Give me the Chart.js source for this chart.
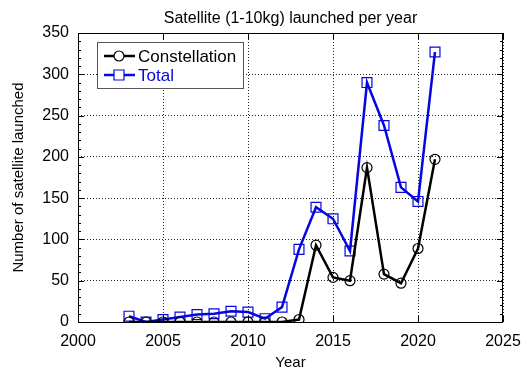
<!DOCTYPE html>
<html>
<head>
<meta charset="utf-8">
<script src="https://cdn.jsdelivr.net/npm/chart.js@4"></script>
<style>
  html, body { margin: 0; padding: 0; background: #fff; }
  #wrap { width: 524px; height: 372px; }
</style>
</head>
<body>
<div id="wrap"><canvas id="chart" width="524" height="372"></canvas></div>
<script>
// data
const years = [2003, 2004, 2005, 2006, 2007, 2008, 2009, 2010, 2011, 2012,
               2013, 2014, 2015, 2016, 2017, 2018, 2019, 2020, 2021];
const constellation = [0, 0, 0, 0, 0, 0, 0, 0, 0, 0,
                       3, 93, 54, 50, 187, 58, 47, 89, 197];
const total = [7, 0, 3, 6, 9, 10, 13, 12, 4, 18,
               88, 139, 125, 86, 290, 238, 163, 146, 327];
const xTicks = [2000, 2005, 2010, 2015, 2020, 2025];
const yTicks = [0, 50, 100, 150, 200, 250, 300, 350];
const chartTitle = 'Satellite (1-10kg) launched per year';

const FONT = "'Liberation Sans', Arial, sans-serif";
const BLUE = '#0606e0';

const toPoints = (vals) => years.map((y, i) => ({ x: y, y: vals[i] }));

// frame, inside ticks, title and legend box
const decor = {
  id: 'decor',
  afterDraw(chart) {
    const { ctx, chartArea: a, scales: { x, y } } = chart;
    ctx.save();
    ctx.strokeStyle = '#000';
    ctx.lineWidth = 1;
    ctx.strokeRect(a.left + 0.5, a.top + 0.5, a.right - a.left - 1, a.bottom - a.top);

    ctx.beginPath();
    for (let v = 0; v <= 350; v += 10) {
      const py = Math.round(y.getPixelForValue(v)) + 0.5;
      const len = v % 50 === 0 ? 6 : 3;
      ctx.moveTo(a.left, py); ctx.lineTo(a.left + len, py);
      ctx.moveTo(a.right, py); ctx.lineTo(a.right - len, py);
    }
    xTicks.forEach(v => {
      const px = Math.round(x.getPixelForValue(v)) + 0.5;
      ctx.moveTo(px, a.top); ctx.lineTo(px, a.top + 6);
      ctx.moveTo(px, a.bottom); ctx.lineTo(px, a.bottom - 6);
    });
    ctx.stroke();

    // title centred over the plot
    ctx.fillStyle = '#000';
    ctx.font = '16px ' + FONT;
    ctx.textAlign = 'center';
    ctx.textBaseline = 'middle';
    ctx.fillText(chartTitle, (a.left + a.right) / 2, 19);

    // legend
    const bx = 97, by = 42, bw = 146, bh = 46;
    ctx.fillStyle = '#fff';
    ctx.fillRect(bx, by, bw, bh);
    ctx.strokeStyle = '#555';
    ctx.strokeRect(bx + 0.5, by + 0.5, bw, bh);

    const rows = [
      { label: 'Constellation', color: '#000', y: by + 14, style: 'circle' },
      { label: 'Total', color: BLUE, y: by + 33, style: 'rect' }
    ];
    ctx.textAlign = 'left';
    rows.forEach(r => {
      ctx.strokeStyle = r.color;
      ctx.lineWidth = 2.5;
      ctx.beginPath();
      ctx.moveTo(bx + 7, r.y); ctx.lineTo(bx + 38, r.y);
      ctx.stroke();
      ctx.lineWidth = 1.2;
      ctx.fillStyle = '#fff';
      ctx.beginPath();
      if (r.style === 'circle') {
        ctx.arc(bx + 22, r.y, 5, 0, Math.PI * 2);
      } else {
        ctx.rect(bx + 17, r.y - 5, 10, 10);
      }
      ctx.fill();
      ctx.stroke();
      ctx.fillStyle = r.color;
      ctx.font = '17px ' + FONT;
      ctx.textBaseline = 'middle';
      ctx.fillText(r.label, bx + 41, r.y + 1);
    });
    ctx.restore();
  }
};

new Chart(document.getElementById('chart'), {
  type: 'line',
  data: {
    datasets: [
      {
        label: 'Constellation',
        data: toPoints(constellation),
        borderColor: '#000',
        borderWidth: 2.5,
        pointStyle: 'circle',
        pointRadius: 5,
        pointBorderWidth: 1.2,
        pointBackgroundColor: 'rgba(0,0,0,0)',
        pointBorderColor: '#000',
        tension: 0
      },
      {
        label: 'Total',
        data: toPoints(total),
        borderColor: BLUE,
        borderWidth: 2.5,
        pointStyle: 'rect',
        pointRadius: 7,
        pointBorderWidth: 1.2,
        pointBackgroundColor: 'rgba(0,0,0,0)',
        pointBorderColor: BLUE,
        tension: 0
      }
    ]
  },
  options: {
    responsive: false,
    animation: false,
    layout: { padding: { left: 0, right: 21, top: 33, bottom: 0 } },
    plugins: {
      legend: { display: false },
      tooltip: { enabled: false },
      title: { display: false }
    },
    scales: {
      x: {
        type: 'linear',
        min: 2000,
        max: 2025,
        afterBuildTicks: (s) => { s.ticks = xTicks.map(v => ({ value: v })); },
        afterFit: (s) => { s.height = 50; s.paddingLeft = 0; s.paddingRight = 0; },
        ticks: {
          color: '#000',
          font: { family: FONT, size: 16 },
          padding: 10,
          maxRotation: 0,
          callback: (v) => String(v)
        },
        grid: { color: '#222', drawTicks: false, lineWidth: 1 },
        border: { display: false, dash: [1, 2] },
        title: {
          display: true,
          text: 'Year',
          color: '#000',
          font: { family: FONT, size: 15 },
          padding: { top: 12, bottom: 0 }
        }
      },
      y: {
        min: 0,
        max: 350,
        afterBuildTicks: (s) => { s.ticks = yTicks.map(v => ({ value: v })); },
        afterFit: (s) => { s.width = 78; s.paddingTop = 0; s.paddingBottom = 0; },
        ticks: {
          color: '#000',
          font: { family: FONT, size: 16 },
          padding: 9
        },
        grid: { color: '#222', drawTicks: false, lineWidth: 1 },
        border: { display: false, dash: [1, 2] },
        title: {
          display: true,
          text: 'Number of satellite launched',
          color: '#000',
          font: { family: FONT, size: 15 },
          padding: { top: 10, bottom: 0 }
        }
      }
    }
  },
  plugins: [decor]
});
</script>
</body>
</html>
